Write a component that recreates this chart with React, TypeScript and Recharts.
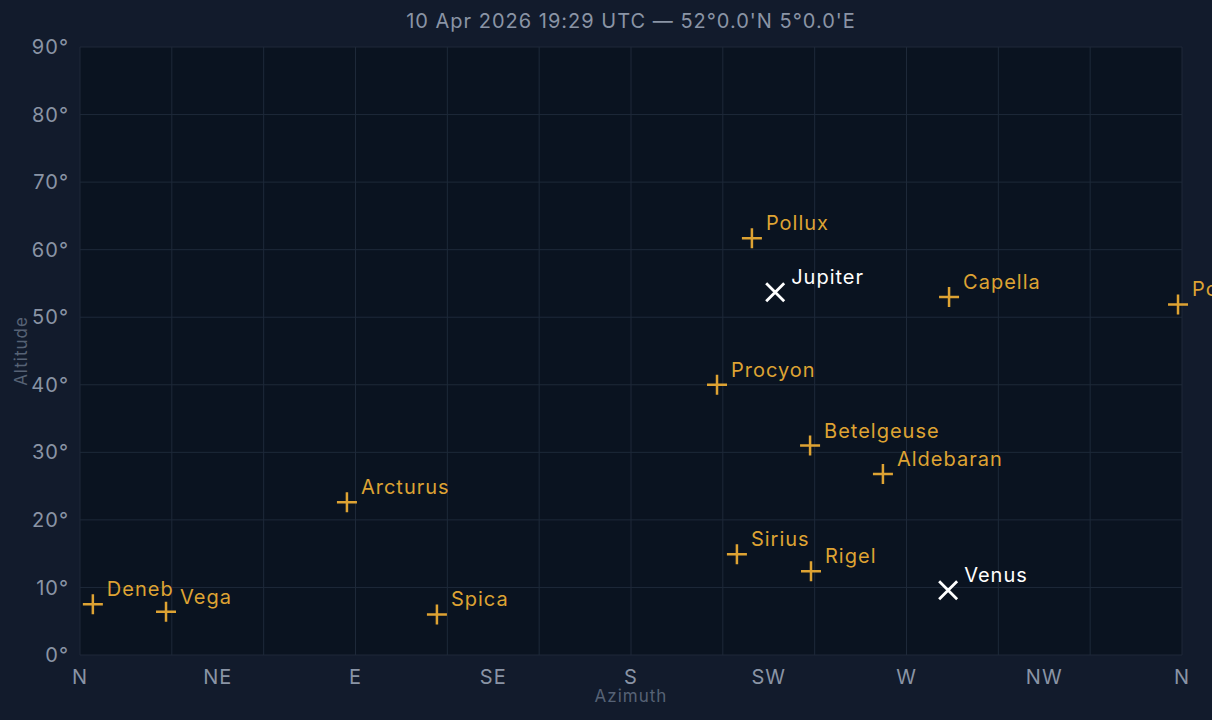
import { CartesianGrid, ReferenceLine, Scatter, ScatterChart, XAxis, YAxis } from "recharts";

const starNames = ["Deneb", "Vega", "Arcturus", "Spica", "Procyon", "Pollux", "Sirius", "Betelgeuse", "Rigel", "Aldebaran", "Capella", "Polaris"];
const starAz = [4.2, 28.1, 87.2, 116.6, 208.1, 219.5, 214.6, 238.5, 238.8, 262.3, 283.9, 358.7];
const starAlt = [7.5, 6.4, 22.6, 6.0, 40.0, 61.7, 14.9, 31.0, 12.4, 26.8, 53.0, 51.9];

const planetNames = ["Jupiter", "Venus"];
const planetAz = [227.1, 283.6];
const planetAlt = [53.7, 9.6];

const azTicks = [0, 45, 90, 135, 180, 225, 270, 315, 360];
const azLabels = ["N", "NE", "E", "SE", "S", "SW", "W", "NW", "N"];
const azGrid = [0, 30, 60, 90, 120, 150, 180, 210, 240, 270, 300, 330, 360];
const altTicks = [0, 10, 20, 30, 40, 50, 60, 70, 80, 90];

const stars = starNames.map((name, i) => ({ name, az: starAz[i], alt: starAlt[i] }));
const planets = planetNames.map((name, i) => ({ name, az: planetAz[i], alt: planetAlt[i] }));

const FONT = "Inter, 'Noto Sans', sans-serif";
const GOLD = "#dea333";
const TICK = "#8a94a5";
const GRID = "#1e2939";
const SPACING = 1;

const StarMark = (props: any) => {
  const { cx, cy, payload } = props;
  return (
    <g>
      <path d={`M${cx - 10},${cy}H${cx + 10}M${cx},${cy - 10}V${cy + 10}`} stroke={GOLD} strokeWidth={2.5} />
      <text x={cx + 14} y={cy - 8} fill={GOLD} fontSize={20} fontFamily={FONT} letterSpacing={SPACING}>
        {payload.name}
      </text>
    </g>
  );
};

const PlanetMark = (props: any) => {
  const { cx, cy, payload } = props;
  return (
    <g>
      <path
        d={`M${cx - 9},${cy - 9}L${cx + 9},${cy + 9}M${cx - 9},${cy + 9}L${cx + 9},${cy - 9}`}
        stroke="#ffffff"
        strokeWidth={2.8}
      />
      <text x={cx + 16} y={cy - 8} fill="#ffffff" fontSize={20} fontFamily={FONT} letterSpacing={SPACING}>
        {payload.name}
      </text>
    </g>
  );
};

export default function App() {
  return (
    <div
      style={{
        position: "absolute",
        left: 0,
        top: 0,
        width: 1212,
        height: 720,
        background: "#121b2c",
        fontFamily: FONT,
      }}
    >
      <div
        style={{
          position: "absolute",
          left: 80,
          width: 1102,
          top: 8,
          textAlign: "center",
          color: TICK,
          fontSize: 20,
          lineHeight: "26px",
          letterSpacing: SPACING,
        }}
      >
        10 Apr 2026 19:29 UTC — 52°0.0'N 5°0.0'E
      </div>
      <ScatterChart width={1212} height={720} margin={{ top: 47, right: 30, bottom: 0, left: 0 }}>
        <CartesianGrid vertical={false} stroke={GRID} fill="#0a1320" />
        {azGrid.map((v) => (
          <ReferenceLine key={v} x={v} stroke={GRID} strokeWidth={1} />
        ))}
        <XAxis
          type="number"
          dataKey="az"
          domain={[0, 360]}
          ticks={azTicks}
          tickFormatter={(v: number) => azLabels[azTicks.indexOf(v)]}
          height={65}
          axisLine={false}
          tickLine={false}
          tickSize={0}
          tickMargin={15}
          tick={{ fill: TICK, fontSize: 20, fontFamily: FONT, letterSpacing: SPACING }}
          label={{ value: "Azimuth", position: "insideBottom", offset: 18, fill: "#566275", fontSize: 17, fontFamily: FONT, letterSpacing: SPACING }}
        />
        <YAxis
          type="number"
          dataKey="alt"
          domain={[0, 90]}
          ticks={altTicks}
          tickFormatter={(v: number) => `${v}°`}
          width={80}
          axisLine={false}
          tickLine={false}
          tickSize={0}
          tickMargin={11}
          tick={{ fill: TICK, fontSize: 20, fontFamily: FONT, letterSpacing: SPACING }}
          label={{
            content: (p: any) => {
              const vb = p.viewBox;
              const cy = vb.y + vb.height / 2;
              return (
                <text
                  x={21}
                  y={cy}
                  transform={`rotate(-90 21 ${cy})`}
                  textAnchor="middle"
                  dominantBaseline="central"
                  fill="#566275"
                  fontSize={17}
                  fontFamily={FONT}
                  letterSpacing={SPACING}
                >
                  Altitude
                </text>
              );
            },
          }}
        />
        <Scatter data={stars} shape={StarMark} isAnimationActive={false} />
        <Scatter data={planets} shape={PlanetMark} isAnimationActive={false} />
      </ScatterChart>
    </div>
  );
}
